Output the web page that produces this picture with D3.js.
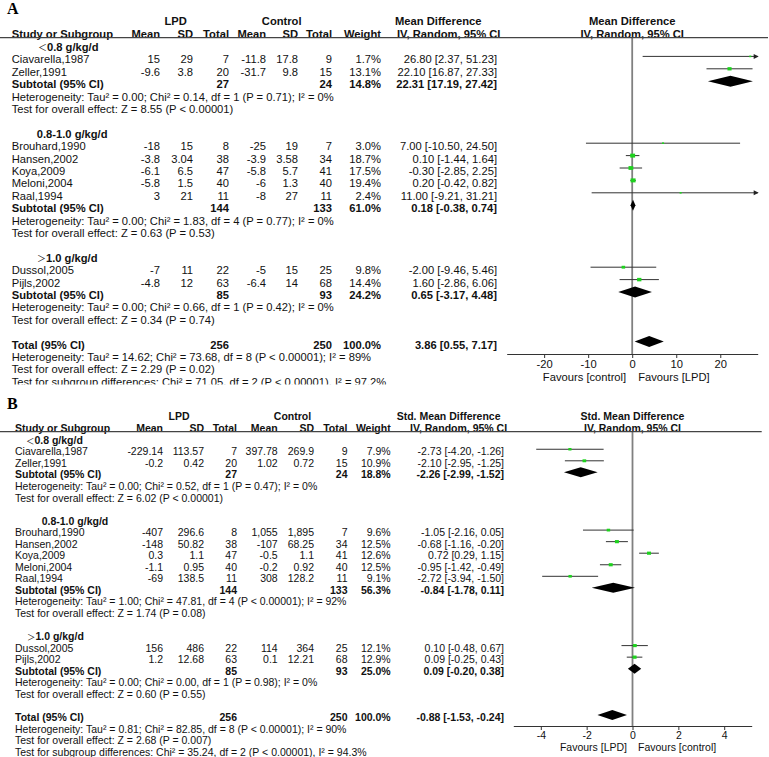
<!DOCTYPE html>
<html lang="en">
<head>
<meta charset="UTF-8">
<title>Forest plots: LPD vs control</title>
<script src="https://cdn.jsdelivr.net/npm/d3@7"></script>
<style>
  body { margin: 0; background: #fff; }
  svg { display: block; font-family: "Liberation Sans", Arial, sans-serif; }
</style>
</head>
<body>
<svg id="chart" width="769" height="757"></svg>
<script>
// studies and subgroups, same for both panels
const studies = ["Ciavarella,1987", "Zeller,1991", "Brouhard,1990", "Hansen,2002", "Koya,2009",
                 "Meloni,2004", "Raal,1994", "Dussol,2005", "Pijls,2002"];
const studyGroup = [0, 0, 1, 1, 1, 1, 1, 2, 2];
const groupLabels = ["＜0.8 g/kg/d", "0.8-1.0 g/kg/d", "＞1.0 g/kg/d"];

// Panel A - mean difference. [mean, sd, total]
const aLpd = [[15, 29, 7], [-9.6, 3.8, 20], [-18, 15, 8], [-3.8, 3.04, 38], [-6.1, 6.5, 47],
              [-5.8, 1.5, 40], [3, 21, 11], [-7, 11, 22], [-4.8, 12, 63]];
const aCtl = [[-11.8, 17.8, 9], [-31.7, 9.8, 15], [-25, 19, 7], [-3.9, 3.58, 34], [-5.8, 5.7, 41],
              [-6, 1.3, 40], [-8, 27, 11], [-5, 15, 25], [-6.4, 14, 68]];
const aWeight = [1.7, 13.1, 3.0, 18.7, 17.5, 19.4, 2.4, 9.8, 14.4];
const aEffect = [[26.80, 2.37, 51.23], [22.10, 16.87, 27.33], [7.00, -10.50, 24.50], [0.10, -1.44, 1.64],
                 [-0.30, -2.85, 2.25], [0.20, -0.42, 0.82], [11.00, -9.21, 31.21], [-2.00, -9.46, 5.46],
                 [1.60, -2.86, 6.06]];
const aSubN = [[27, 24], [144, 133], [85, 93]];
const aSubWeight = [14.8, 61.0, 24.2];
const aSubEffect = [[22.31, 17.19, 27.42], [0.18, -0.38, 0.74], [0.65, -3.17, 4.48]];
const aSubHet = ["Heterogeneity: Tau² = 0.00; Chi² = 0.14, df = 1 (P = 0.71); I² = 0%",
                 "Heterogeneity: Tau² = 0.00; Chi² = 1.83, df = 4 (P = 0.77); I² = 0%",
                 "Heterogeneity: Tau² = 0.00; Chi² = 0.66, df = 1 (P = 0.42); I² = 0%"];
const aSubZ = ["Test for overall effect: Z = 8.55 (P < 0.00001)",
               "Test for overall effect: Z = 0.63 (P = 0.53)",
               "Test for overall effect: Z = 0.34 (P = 0.74)"];
const aTotalN = [256, 250];
const aTotalEffect = [3.86, 0.55, 7.17];
const aTotalNotes = ["Heterogeneity: Tau² = 14.62; Chi² = 73.68, df = 8 (P < 0.00001); I² = 89%",
                     "Test for overall effect: Z = 2.29 (P = 0.02)",
                     "Test for subgroup differences: Chi² = 71.05, df = 2 (P < 0.00001), I² = 97.2%"];
const aTicks = [-20, -10, 0, 10, 20];
const aFavours = ["Favours [control]", "Favours [LPD]"];

// Panel B - standardised mean difference
const bLpd = [[-229.14, 113.57, 7], [-0.2, 0.42, 20], [-407, 296.6, 8], [-148, 50.82, 38], [0.3, 1.1, 47],
              [-1.1, 0.95, 40], [-69, 138.5, 11], [156, 486, 22], [1.2, 12.68, 63]];
const bCtl = [[397.78, 269.9, 9], [1.02, 0.72, 15], [1055, 1895, 7], [-107, 68.25, 34], [-0.5, 1.1, 41],
              [-0.2, 0.92, 40], [308, 128.2, 11], [114, 364, 25], [0.1, 12.21, 68]];
const bWeight = [7.9, 10.9, 9.6, 12.5, 12.6, 12.5, 9.1, 12.1, 12.9];
const bEffect = [[-2.73, -4.20, -1.26], [-2.10, -2.95, -1.25], [-1.05, -2.16, 0.05], [-0.68, -1.16, -0.20],
                 [0.72, 0.29, 1.15], [-0.95, -1.42, -0.49], [-2.72, -3.94, -1.50], [0.10, -0.48, 0.67],
                 [0.09, -0.25, 0.43]];
const bSubN = [[27, 24], [144, 133], [85, 93]];
const bSubWeight = [18.8, 56.3, 25.0];
const bSubEffect = [[-2.26, -2.99, -1.52], [-0.84, -1.78, 0.11], [0.09, -0.20, 0.38]];
const bSubHet = ["Heterogeneity: Tau² = 0.00; Chi² = 0.52, df = 1 (P = 0.47); I² = 0%",
                 "Heterogeneity: Tau² = 1.00; Chi² = 47.81, df = 4 (P < 0.00001); I² = 92%",
                 "Heterogeneity: Tau² = 0.00; Chi² = 0.00, df = 1 (P = 0.98); I² = 0%"];
const bSubZ = ["Test for overall effect: Z = 6.02 (P < 0.00001)",
               "Test for overall effect: Z = 1.74 (P = 0.08)",
               "Test for overall effect: Z = 0.60 (P = 0.55)"];
const bTotalN = [256, 250];
const bTotalEffect = [-0.88, -1.53, -0.24];
const bTotalNotes = ["Heterogeneity: Tau² = 0.81; Chi² = 82.85, df = 8 (P < 0.00001); I² = 90%",
                     "Test for overall effect: Z = 2.68 (P = 0.007)",
                     "Test for subgroup differences: Chi² = 35.24, df = 2 (P < 0.00001), I² = 94.3%"];
const bTicks = [-4, -2, 0, 2, 4];
const bFavours = ["Favours [LPD]", "Favours [control]"];

const svg = d3.select("#chart");
const num = v => v.toLocaleString("en-US", { maximumFractionDigits: 2 });
const ci = e => `${e[0].toFixed(2)} [${e[1].toFixed(2)}, ${e[2].toFixed(2)}]`;

function drawPanel(L, D) {
  const g = svg.append("g");
  if (L.clipY) {
    svg.append("clipPath").attr("id", "clip" + D.letter)
      .append("rect").attr("width", 769).attr("height", L.clipY);
    g.attr("clip-path", `url(#clip${D.letter})`);
  }
  const x = d3.scaleLinear().domain(L.domain).range(L.range);
  const x0 = x(0);

  const txt = (px, py, s, anchor, bold, size) => g.append("text")
    .attr("x", px).attr("y", py).attr("dy", "0.36em")
    .attr("text-anchor", anchor || "start")
    .attr("font-size", size || L.fs)
    .attr("font-weight", bold ? "bold" : null)
    .attr("fill", "#111")
    .text(s);

  g.append("text").attr("x", L.letter[0]).attr("y", L.letter[1])
    .attr("font-family", "'Liberation Serif', 'Times New Roman', serif")
    .attr("font-weight", "bold").attr("font-size", 16)
    .text(D.letter);

  // header
  txt(L.lpdX, L.hdr[0], "LPD", "middle", true);
  txt(L.ctlX, L.hdr[0], "Control", "middle", true);
  txt(L.effHdrX[0], L.hdr[0], D.measure, "start", true);
  txt(x0, L.hdr[0], D.measure, "middle", true);
  txt(L.studyX, L.hdr[1], "Study or Subgroup", "start", true);
  ["Mean", "SD", "Total", "Mean", "SD", "Total", "Weight"]
    .forEach((h, i) => txt(L.cols[i], L.hdr[1], h, "end", true));
  txt(L.effHdrX[1], L.hdr[1], "IV, Random, 95% CI", "start", true);
  txt(x0, L.hdr[1], "IV, Random, 95% CI", "middle", true);
  g.append("line").attr("x1", 0).attr("x2", L.lineX2)
    .attr("y1", L.lineY).attr("y2", L.lineY)
    .attr("stroke", "#444").attr("stroke-width", 1.2);

  const rowY = i => L.top + i * L.step;
  const maxW = d3.max(D.weight);
  const [dMin, dMax] = L.domain;
  const marks = g.append("g");

  const ciLine = (e, my) => {
    const lo = Math.max(e[1], dMin), hi = Math.min(e[2], dMax);
    marks.append("line").attr("x1", x(lo)).attr("x2", x(hi))
      .attr("y1", my).attr("y2", my).attr("stroke", "#333").attr("stroke-width", 1);
    if (e[2] > dMax) {
      const t = x(dMax);
      marks.append("path").attr("d", `M${t + 1},${my}L${t - 4},${my - 2.5}L${t - 4},${my + 2.5}Z`).attr("fill", "#222");
    }
    if (e[1] < dMin) {
      const t = x(dMin);
      marks.append("path").attr("d", `M${t - 1},${my}L${t + 4},${my - 2.5}L${t + 4},${my + 2.5}Z`).attr("fill", "#222");
    }
  };
  const diamond = (e, my) => {
    const h = L.diamondH / 2;
    marks.append("path")
      .attr("d", `M${x(e[1])},${my}L${x(e[0])},${my - h}L${x(e[2])},${my}L${x(e[0])},${my + h}Z`)
      .attr("fill", "#000");
  };

  let r = 0;
  groupLabels.forEach((lab, k) => {
    // subgroup heading; the full-width comparison sign is thin, from the CJK font
    const h = txt(L.headX[k], rowY(r), null, "start", true);
    if (/^[＜＞]/.test(lab)) {
      h.append("tspan").attr("font-weight", "normal").attr("font-size", "0.8em")
        .attr("font-family", "'Noto Sans CJK SC', sans-serif").text(lab[0]);
      h.append("tspan").text(lab.slice(1));
    } else {
      h.text(lab);
    }
    r++;
    studies.forEach((s, i) => {
      if (studyGroup[i] !== k) return;
      const y = rowY(r);
      txt(L.studyX, y, s);
      const vals = D.lpd[i].concat(D.ctl[i]);
      vals.forEach((v, j) => txt(L.cols[j], y, num(v), "end"));
      txt(L.cols[6], y, D.weight[i].toFixed(1) + "%", "end");
      txt(L.effR, y, ci(D.effect[i]), "end");
      const my = y - L.markOff;
      ciLine(D.effect[i], my);
      const s2 = Math.max(2, L.markMax * Math.sqrt(D.weight[i] / maxW));
      marks.append("rect").attr("x", x(D.effect[i][0]) - s2 / 2).attr("y", my - s2 * 0.4)
        .attr("width", s2).attr("height", s2 * 0.8).attr("fill", "#1ed21e");
      r++;
    });
    const y = rowY(r);
    txt(L.studyX, y, "Subtotal (95% CI)", "start", true);
    txt(L.cols[2], y, D.subN[k][0], "end", true);
    txt(L.cols[5], y, D.subN[k][1], "end", true);
    txt(L.cols[6], y, D.subWeight[k].toFixed(1) + "%", "end", true);
    txt(L.effR, y, ci(D.subEffect[k]), "end", true);
    diamond(D.subEffect[k], y - L.markOff);
    r++;
    txt(L.studyX, rowY(r), D.subHet[k]); r++;
    txt(L.studyX, rowY(r), D.subZ[k]); r++;
    r++;
  });

  const ty = rowY(r);
  txt(L.studyX, ty, "Total (95% CI)", "start", true);
  txt(L.cols[2], ty, D.totalN[0], "end", true);
  txt(L.cols[5], ty, D.totalN[1], "end", true);
  txt(L.cols[6], ty, "100.0%", "end", true);
  txt(L.effR, ty, ci(D.totalEffect), "end", true);
  diamond(D.totalEffect, ty - L.markOff);
  r++;
  D.totalNotes.forEach(n => { txt(L.studyX, rowY(r), n); r++; });

  // zero line and axis
  g.insert("line", ":first-child").attr("x1", x0).attr("x2", x0)
    .attr("y1", L.lineY).attr("y2", L.axisY)
    .attr("stroke", "#808080").attr("stroke-width", 1.8);
  const ax = g.append("g").attr("transform", `translate(0,${L.axisY})`)
    .call(d3.axisBottom(x).tickValues(D.ticks).tickFormat(d => String(d))
      .tickSize(4).tickPadding(2).tickSizeOuter(0));
  ax.attr("font-family", null).attr("font-size", null);
  ax.select(".domain").attr("stroke", "#333");
  ax.selectAll(".tick line").attr("stroke", "#333");
  ax.selectAll(".tick text").attr("font-size", L.fs).attr("fill", "#111");
  txt(x0 - L.favGap, L.favY, D.favours[0], "end");
  txt(x0 + L.favGap, L.favY, D.favours[1], "start");
}

drawPanel({
  fs: 11.2, letter: [7, 14], hdr: [21, 34], lineY: 37.7, lineX2: 768,
  studyX: 11.7, headX: [38, 36.7, 37],
  cols: [160, 193, 229, 266, 298, 332, 381], lpdX: 175.6, ctlX: 281.7,
  effR: 497, effHdrX: [395, 397], top: 47, step: 12.4, markOff: 3,
  domain: [-28.5, 28.5], range: [506.7, 757.7], axisY: 354, favY: 376.5, favGap: 6,
  diamondH: 11, markMax: 5, clipY: 384.5
}, {
  letter: "A", measure: "Mean Difference", lpd: aLpd, ctl: aCtl, weight: aWeight, effect: aEffect,
  subN: aSubN, subWeight: aSubWeight, subEffect: aSubEffect, subHet: aSubHet, subZ: aSubZ,
  totalN: aTotalN, totalEffect: aTotalEffect, totalNotes: aTotalNotes, ticks: aTicks, favours: aFavours
});

drawPanel({
  fs: 10.5, letter: [7, 409], hdr: [416, 428.3], lineY: 431.7, lineX2: 761.7,
  studyX: 15, headX: [26, 41.7, 27],
  cols: [163, 204, 237, 277.7, 314, 347.5, 390.7], lpdX: 179, ctlX: 292.5,
  effR: 504, effHdrX: [396.7, 410], top: 440, step: 11.55, markOff: 2.3,
  domain: [-5.2, 5.2], range: [513.3, 751.7], axisY: 726, favY: 747.3, favGap: 5.5,
  diamondH: 10, markMax: 4
}, {
  letter: "B", measure: "Std. Mean Difference", lpd: bLpd, ctl: bCtl, weight: bWeight, effect: bEffect,
  subN: bSubN, subWeight: bSubWeight, subEffect: bSubEffect, subHet: bSubHet, subZ: bSubZ,
  totalN: bTotalN, totalEffect: bTotalEffect, totalNotes: bTotalNotes, ticks: bTicks, favours: bFavours
});
</script>
</body>
</html>
